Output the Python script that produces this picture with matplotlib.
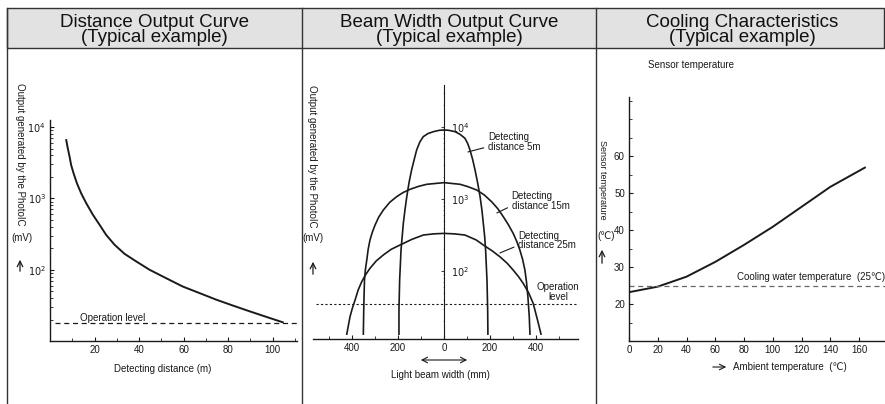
import matplotlib
matplotlib.use("Agg")
import matplotlib.pyplot as plt
from matplotlib.patches import Rectangle
from matplotlib.ticker import FixedLocator, NullFormatter, MultipleLocator, LogLocator

plt.rcParams['font.family'] = ['Liberation Sans', 'DejaVu Sans']

INK = '#1a1a1a'

# --- data ---
titles = ["Distance Output Curve\n(Typical example)",
          "Beam Width Output Curve\n(Typical example)",
          "Cooling Characteristics\n(Typical example)"]

# distance output curve: detecting distance (m) vs output (mV)
dist_m = [7.3, 8.0, 8.8, 9.5, 10.6, 12.1, 14.0, 16.3, 19.3, 22.3, 25.2, 29.0,
          33.5, 38.7, 44.7, 52.2, 59.7, 67.2, 74.7, 82.2, 89.7, 97.2, 104.6]
dist_out = [6580, 5030, 3850, 2940, 2250, 1630, 1180, 855, 588, 426, 309, 224,
            167, 131, 100, 76, 58, 47, 38, 31.4, 26.1, 21.8, 18.3]
dist_op_level = 18

# beam width output curves: beam position (mm) vs output (mV)
beam5_x = [-196, -196, -193, -187, -182, -177, -170, -162, -152, -141, -130, -119,
           -105, -90, -70, -46, -20, 0, 20, 48, 70, 91, 103, 113, 124, 135,
           146, 157, 165, 171, 177, 181, 187, 190, 191]
beam5_y = [13.3, 28.7, 75, 196, 300, 459, 700, 1077, 1700, 2530, 3500, 4800,
           6200, 7350, 8100, 8610, 9000, 9080, 9000, 8610, 7900, 6970, 5900, 4800, 3600, 2530,
           1700, 1077, 700, 459, 300, 196, 75, 28.7, 13.3]
beam15_x = [-351, -349, -346, -342, -336, -330, -322, -312, -300, -284, -264, -236,
            -206, -178, -148, -110, -75, 0, 70, 105, 142, 175, 207, 233, 258, 280,
            301, 316, 330, 342, 352, 359, 365, 371, 374]
beam15_y = [13.3, 32, 75, 105, 142, 200, 270, 345, 435, 560, 703, 900,
            1077, 1230, 1362, 1500, 1600, 1687, 1600, 1480, 1334, 1140, 918, 740, 568, 440,
            333, 260, 196, 145, 103, 70, 44, 23.2, 13.3]
beam25_x = [-423, -409, -398, -387, -373, -358, -340, -322, -295, -264, -230, -191,
            -140, -90, -45, 0, 45, 91, 140, 171, 210, 243, 275, 301, 325, 345,
            368, 388, 407, 422]
beam25_y = [13.3, 23.2, 31, 39.5, 55, 71, 90, 109, 138, 167, 200, 230,
            275, 316, 328, 333, 328, 316, 270, 230, 190, 158, 128, 103, 83, 67,
            50, 35.6, 20.8, 13.3]
beam_op_level = 34.8
beam_ticks = [-400, -200, 0, 200, 400]
beam_ticklabels = ["400", "200", "0", "200", "400"]

# cooling characteristics: ambient temp vs sensor temp (deg C)
ambient = [0, 20, 40, 60, 80, 100, 120, 140, 164]
sensor = [23.2, 24.7, 27.4, 31.4, 36.0, 40.9, 46.3, 51.7, 56.9]
cooling_water = 25

W, H = 885, 404
fig = plt.figure(figsize=(W / 100, H / 100), dpi=100)


def px_axes(left, top, right, bottom):
    return fig.add_axes([left / W, 1 - bottom / H, (right - left) / W, (bottom - top) / H])


# frame + header in pixel space
ov = fig.add_axes([0, 0, 1, 1])
ov.set_xlim(0, W)
ov.set_ylim(H, 0)
ov.axis('off')
ov.add_patch(Rectangle((7, 8), 877, 40, facecolor='#e2e2e2', edgecolor='#333333', lw=1))
for xv in (7, 301.5, 596):
    ov.plot([xv, xv], [8, H], color='#333333', lw=1)
for cx, t in zip([154, 449, 742], titles):
    ov.text(cx, 30, t, ha='center', va='center', fontsize=13.5, color='#111111', linespacing=0.85)

small = dict(fontsize=7, color=INK)


def style(ax):
    for s in ('top', 'right'):
        ax.spines[s].set_visible(False)
    for s in ax.spines.values():
        s.set_color(INK)
        s.set_linewidth(1.0)
    ax.tick_params(which='both', direction='in', colors=INK, labelsize=7, pad=3)
    ax.tick_params(which='major', length=3)
    ax.tick_params(which='minor', length=2)
    ax.patch.set_alpha(0)


# ---- panel 1: distance output ----
ax1 = px_axes(50, 120, 297, 341)
style(ax1)
ax1.set_yscale('log')
ax1.set_xlim(0, 111)
ax1.set_ylim(10, 10 ** 4.1)
ax1.plot(dist_m, dist_out, color=INK, lw=1.4)
ax1.axhline(dist_op_level, xmin=0.02, color=INK, lw=0.9, ls=(0, (4, 3)))
ax1.text(13.3, 21, "Operation level", va='center', ha='left', **small)
ax1.set_xticks([20, 40, 60, 80, 100])
ax1.xaxis.set_minor_locator(MultipleLocator(10))
ax1.yaxis.set_major_locator(FixedLocator([100, 1000, 10000]))
ax1.set_yticklabels([r'$10^2$', r'$10^3$', r'$10^4$'])
ax1.yaxis.set_minor_locator(LogLocator(subs=range(2, 10)))
ax1.yaxis.set_minor_formatter(NullFormatter())
ov.text(163, 369, "Detecting distance (m)", ha='center', va='center', **small)
ov.text(20, 83, "Output generated by the PhotoIC", rotation=270, ha='center', va='top', **small)
ov.text(22, 238, "(mV)", ha='center', va='center', **small)
ov.annotate("", xy=(20, 257), xytext=(20, 274),
            arrowprops=dict(arrowstyle='->', color=INK, lw=0.9))

# ---- panel 2: beam width ----
ax2 = px_axes(313, 85, 578, 339)
style(ax2)
ax2.set_yscale('log')
ax2.set_xlim(-570, 583)
ax2.set_ylim(10 ** 1.056, 10 ** 4.583)
ax2.spines['left'].set_visible(False)
ax2.spines['right'].set_visible(True)
ax2.spines['right'].set_position(('data', 0))
ax2.spines['right'].set_linewidth(0.8)
ax2.yaxis.tick_right()
for bx, by in ((beam5_x, beam5_y), (beam15_x, beam15_y), (beam25_x, beam25_y)):
    ax2.plot(bx, by, color=INK, lw=1.2)
ax2.axhline(beam_op_level, xmin=0.012, xmax=0.995, color=INK, lw=0.8, ls=(0, (2, 2)))
ax2.set_xticks(beam_ticks)
ax2.set_xticklabels(beam_ticklabels)
ax2.xaxis.set_minor_locator(MultipleLocator(100))
ax2.yaxis.set_major_locator(FixedLocator([100, 1000, 10000]))
ax2.set_yticklabels([r'$10^2$', r'$10^3$', r'$10^4$'])
ax2.yaxis.set_minor_locator(LogLocator(subs=range(2, 10)))
ax2.yaxis.set_minor_formatter(NullFormatter())
ax2.tick_params(axis='y', which='major', length=2, pad=5, colors='#444444', labelcolor=INK)
ax2.tick_params(axis='y', which='minor', length=1, colors='#777777')
ax2.text(496, 51, "Operation\nlevel", ha='center', va='center', multialignment='center',
         linespacing=0.9, **small)
for label, txy, pxy in (("Detecting\ndistance 5m", (191, 6200), (104, 4500)),
                        ("Detecting\ndistance 15m", (294, 937), (230, 640)),
                        ("Detecting\ndistance 25m", (322, 264), (243, 178))):
    ax2.annotate(label, xy=pxy, xytext=txy, ha='left', va='center', linespacing=0.9,
                 arrowprops=dict(arrowstyle='-', color=INK, lw=0.8, relpos=(0, 0.25),
                                 shrinkA=1, shrinkB=0), **small)
ov.annotate("", xy=(418, 360), xytext=(470, 360),
            arrowprops=dict(arrowstyle='<->', color=INK, lw=0.8))
ov.text(440, 375, "Light beam width (mm)", ha='center', va='center', **small)
ov.text(312, 85, "Output generated by the PhotoIC", rotation=270, ha='center', va='top', **small)
ov.text(313, 238, "(mV)", ha='center', va='center', **small)
ov.annotate("", xy=(313, 259), xytext=(313, 277),
            arrowprops=dict(arrowstyle='->', color=INK, lw=0.9))

# ---- panel 3: cooling ----
ax3 = px_axes(629, 97, 885, 341)
style(ax3)
ax3.set_xlim(0, 178)
ax3.set_ylim(10, 76)
ax3.plot(ambient, sensor, color=INK, lw=1.4)
ax3.axhline(cooling_water, color='#666666', lw=0.9, ls=(0, (4, 3)))
ax3.text(75, 27.3, "Cooling water temperature  (25\u2103)", ha='left', va='center', **small)
ax3.set_xticks(list(range(0, 161, 20)))
ax3.set_yticks([20, 30, 40, 50, 60])
ax3.yaxis.set_minor_locator(MultipleLocator(5))
ov.text(648, 65, "Sensor temperature", ha='left', va='center', **small)
ov.annotate("", xy=(729, 367), xytext=(710, 367),
            arrowprops=dict(arrowstyle='->', color=INK, lw=0.8))
ov.text(733, 367, "Ambient temperature  (\u2103)", ha='left', va='center', **small)
ov.text(602, 140, "Sensor temperature", rotation=270, ha='center', va='top',
        fontsize=6.5, color=INK)
ov.text(606, 236, "(\u2103)", ha='center', va='center', **small)
ov.annotate("", xy=(602, 247), xytext=(602, 266),
            arrowprops=dict(arrowstyle='->', color=INK, lw=0.9))

fig.savefig("out.png", dpi=100)
plt.close(fig)
